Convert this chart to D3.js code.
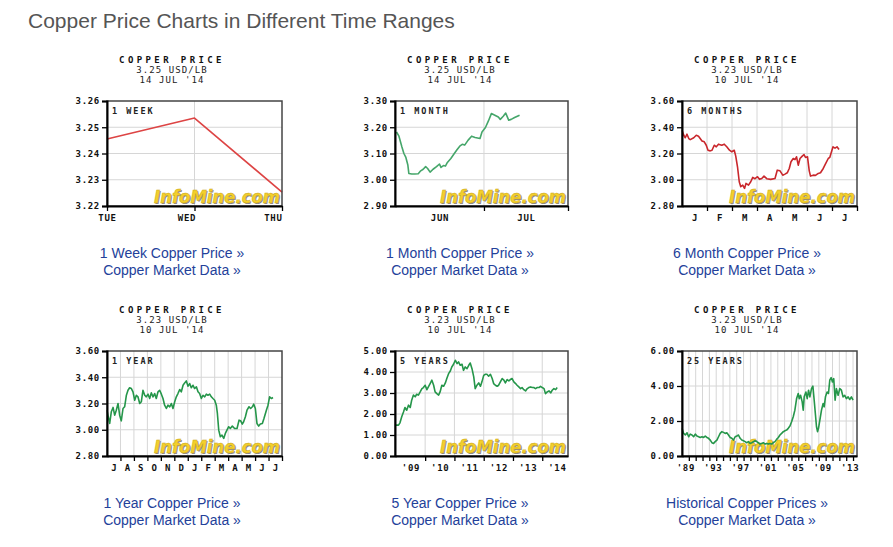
<!DOCTYPE html>
<html>
<head>
<meta charset="utf-8">
<script src="https://cdn.jsdelivr.net/npm/d3@7"></script>
<style>
    body { margin: 0; background: #fff; }
</style>
</head>
<body>
<div id="window"></div>
<script>
// ---- values ----
let week_days = ["TUE", "WED", "THU"];
let week_prices = [3.2455, 3.2535, 3.2253];

// [day (Jun 1 = 1), usd/lb]
let month_prices = [[13.3,3.182],[13.8,3.166],[14.4,3.125],[14.8,3.10],[15.2,3.085],[15.6,3.056],[15.8,3.024],[16.4,3.022],
    [17.0,3.022],[17.7,3.023],[18.2,3.034],[18.7,3.04],[19.2,3.05],[19.6,3.043],[20.1,3.029],[20.7,3.04],[21.4,3.05],
    [22.0,3.06],[22.3,3.047],[22.8,3.054],[23.2,3.052],[23.6,3.066],[24.3,3.081],[25.0,3.10],[25.5,3.113],[26.1,3.128],
    [26.6,3.135],[27.1,3.132],[27.8,3.151],[28.5,3.166],[29.2,3.161],[30.2,3.157],[30.6,3.182],[31.3,3.199],[31.9,3.224],
    [32.5,3.252],[33.2,3.246],[33.9,3.239],[34.3,3.23],[34.9,3.242],[35.4,3.254],[36.0,3.227],[36.5,3.23],[37.2,3.237],[38.2,3.246]];
let month_labels = ["JUN", "JUL"];

// [months since Jan 1 2014, usd/lb]
let six_month_prices = [[0.00,3.377],[0.07,3.339],[0.13,3.32],[0.20,3.347],[0.27,3.314],[0.33,3.306],[0.47,3.32],[0.57,3.339],
    [0.66,3.332],[0.80,3.296],[0.89,3.289],[0.97,3.263],[1.04,3.225],[1.13,3.22],[1.20,3.225],[1.29,3.263],[1.37,3.251],
    [1.46,3.271],[1.59,3.263],[1.69,3.271],[1.79,3.251],[1.90,3.225],[1.99,3.213],[2.09,3.225],[2.15,3.18],[2.22,3.099],
    [2.29,2.985],[2.35,2.947],[2.43,2.959],[2.50,2.934],[2.56,2.972],[2.66,2.959],[2.75,2.985],[2.83,3.018],[2.92,3.008],
    [3.02,3.023],[3.10,3.003],[3.19,3.01],[3.28,3.028],[3.39,3.008],[3.55,3.003],[3.72,3.01],[3.81,3.073],[3.92,3.068],
    [4.03,3.035],[4.12,3.043],[4.21,3.053],[4.29,3.086],[4.36,3.137],[4.45,3.162],[4.52,3.154],[4.58,3.175],[4.65,3.111],
    [4.72,3.162],[4.81,3.18],[4.88,3.192],[4.94,3.17],[5.02,3.175],[5.09,3.068],[5.14,3.028],[5.25,3.035],[5.34,3.033],
    [5.45,3.048],[5.54,3.053],[5.65,3.086],[5.75,3.124],[5.85,3.162],[5.91,3.17],[5.98,3.213],[6.04,3.251],[6.12,3.241],
    [6.20,3.251],[6.28,3.23]];
let six_month_labels = ["J", "F", "M", "A", "M", "J", "J"];

// [months since Jul 1 2013, usd/lb]
let year_prices = [[0.00,3.149],[0.07,3.111],[0.20,3.048],[0.32,3.137],[0.45,3.17],[0.57,3.111],[0.69,3.149],[0.82,3.2],
    [0.94,3.111],[1.06,3.068],[1.19,3.162],[1.31,3.175],[1.44,3.263],[1.56,3.301],[1.68,3.32],[1.81,3.314],[1.93,3.289],
    [2.06,3.225],[2.18,3.263],[2.30,3.251],[2.43,3.2],[2.55,3.213],[2.67,3.301],[2.80,3.263],[2.92,3.251],[3.05,3.271],
    [3.17,3.238],[3.29,3.281],[3.42,3.251],[3.54,3.276],[3.66,3.238],[3.79,3.289],[3.91,3.301],[4.04,3.271],[4.16,3.238],
    [4.28,3.187],[4.41,3.162],[4.53,3.187],[4.66,3.175],[4.78,3.2],[4.90,3.162],[5.03,3.213],[5.15,3.251],[5.27,3.276],
    [5.40,3.306],[5.52,3.289],[5.65,3.339],[5.77,3.357],[5.89,3.372],[6.02,3.332],[6.14,3.352],[6.26,3.32],[6.39,3.339],
    [6.51,3.314],[6.64,3.327],[6.76,3.289],[6.88,3.276],[7.01,3.238],[7.13,3.263],[7.26,3.251],[7.38,3.271],[7.50,3.263],
    [7.63,3.271],[7.75,3.251],[7.87,3.238],[8.00,3.225],[8.12,3.187],[8.20,3.124],[8.30,2.997],[8.42,2.947],[8.54,2.959],
    [8.67,2.934],[8.79,2.972],[8.91,2.997],[9.04,3.023],[9.16,3.01],[9.31,3.028],[9.48,3.01],[9.66,3.01],[9.81,3.073],
    [9.93,3.068],[10.05,3.043],[10.15,3.061],[10.28,3.099],[10.40,3.149],[10.55,3.175],[10.67,3.162],[10.80,3.175],
    [10.90,3.195],[11.02,3.162],[11.14,3.048],[11.27,3.028],[11.39,3.043],[11.54,3.048],[11.66,3.086],[11.84,3.149],
    [11.96,3.187],[12.08,3.251],[12.21,3.238],[12.33,3.246]];
let year_labels = ["J", "A", "S", "O", "N", "D", "J", "F", "M", "A", "M", "J", "J"];

// [decimal year, usd/lb]
let five_year_prices = [[2008.97,1.47],[2009.09,1.47],[2009.14,1.58],[2009.20,1.87],[2009.26,2.10],[2009.31,2.31],[2009.37,2.18],
    [2009.43,2.42],[2009.49,2.31],[2009.54,2.66],[2009.60,2.90],[2009.66,2.82],[2009.71,2.94],[2009.77,2.90],[2009.83,3.05],
    [2009.89,3.21],[2009.94,3.26],[2010.00,3.37],[2010.06,3.16],[2010.11,3.29],[2010.17,3.45],[2010.23,3.61],[2010.29,3.37],
    [2010.34,3.05],[2010.40,2.97],[2010.46,2.90],[2010.51,3.05],[2010.57,3.37],[2010.63,3.32],[2010.69,3.48],[2010.74,3.69],
    [2010.80,3.92],[2010.86,4.05],[2010.91,4.24],[2010.97,4.37],[2011.03,4.56],[2011.09,4.40],[2011.14,4.48],[2011.20,4.32],
    [2011.26,4.37],[2011.31,4.08],[2011.37,4.24],[2011.43,4.16],[2011.49,4.32],[2011.54,4.43],[2011.60,4.16],[2011.66,3.77],
    [2011.71,3.21],[2011.77,3.37],[2011.83,3.48],[2011.89,3.32],[2011.94,3.53],[2012.00,3.84],[2012.06,3.89],[2012.11,3.89],
    [2012.17,3.80],[2012.23,3.89],[2012.29,3.69],[2012.34,3.45],[2012.40,3.37],[2012.46,3.32],[2012.51,3.37],[2012.57,3.53],
    [2012.63,3.69],[2012.69,3.61],[2012.74,3.48],[2012.80,3.64],[2012.86,3.58],[2012.91,3.64],[2012.97,3.69],[2013.03,3.53],
    [2013.09,3.45],[2013.14,3.37],[2013.20,3.29],[2013.26,3.21],[2013.31,3.26],[2013.37,3.16],[2013.43,3.10],[2013.49,3.21],
    [2013.54,3.26],[2013.60,3.29],[2013.66,3.26],[2013.71,3.26],[2013.77,3.21],[2013.83,3.26],[2013.89,3.26],[2013.94,3.32],
    [2014.00,3.26],[2014.06,3.21],[2014.11,2.97],[2014.17,3.05],[2014.23,3.10],[2014.29,3.01],[2014.34,3.13],[2014.40,3.21],
    [2014.46,3.16],[2014.51,3.26]];
let five_year_labels = ["'09", "'10", "'11", "'12", "'13", "'14"];

let history_prices = [[1989.00,1.58],[1989.24,1.29],[1989.49,1.20],[1989.73,1.33],[1989.97,1.10],[1990.21,1.25],[1990.46,1.20],
    [1990.70,1.10],[1990.94,1.25],[1991.18,1.14],[1991.43,1.10],[1991.67,1.06],[1991.91,1.10],[1992.16,1.06],[1992.40,1.14],
    [1992.64,1.06],[1992.88,1.01],[1993.13,0.91],[1993.37,0.76],[1993.61,0.72],[1993.85,0.82],[1994.10,0.91],[1994.34,1.10],
    [1994.58,1.29],[1994.83,1.39],[1995.07,1.35],[1995.31,1.29],[1995.55,1.33],[1995.80,1.20],[1996.04,1.06],[1996.28,1.01],
    [1996.52,0.91],[1996.77,1.10],[1997.01,1.14],[1997.25,1.20],[1997.50,1.01],[1997.74,0.91],[1997.98,0.87],[1998.22,0.82],
    [1998.47,0.76],[1998.71,0.82],[1998.95,0.72],[1999.19,0.76],[1999.44,0.82],[1999.68,0.87],[1999.92,0.82],[2000.17,0.76],
    [2000.41,0.68],[2000.65,0.72],[2000.89,0.76],[2001.14,0.68],[2001.38,0.72],[2001.62,0.68],[2001.86,0.72],[2002.11,0.68],
    [2002.35,0.76],[2002.59,0.82],[2002.83,0.95],[2003.08,1.06],[2003.32,1.20],[2003.56,1.29],[2003.81,1.39],[2004.05,1.44],
    [2004.29,1.48],[2004.53,1.58],[2004.78,1.71],[2005.02,1.96],[2005.26,2.24],[2005.50,2.62],[2005.75,3.28],[2005.99,3.57],
    [2006.14,3.28],[2006.33,3.47],[2006.57,3.09],[2006.72,2.62],[2006.86,3.38],[2007.11,3.66],[2007.30,3.28],[2007.50,3.76],
    [2007.69,3.38],[2007.93,3.85],[2008.13,3.99],[2008.32,3.19],[2008.51,2.34],[2008.66,1.67],[2008.81,1.39],[2008.95,1.58],
    [2009.15,2.05],[2009.39,2.62],[2009.63,3.00],[2009.78,2.81],[2009.97,3.38],[2010.21,3.66],[2010.41,3.57],[2010.60,4.33],
    [2010.80,4.48],[2010.99,4.23],[2011.18,4.42],[2011.38,3.19],[2011.57,3.85],[2011.82,3.47],[2012.06,3.85],[2012.30,3.76],
    [2012.54,3.38],[2012.79,3.47],[2013.03,3.28],[2013.28,3.38],[2013.52,3.23],[2013.76,3.38],[2014.00,3.19]];
let history_labels = ["'89", "'93", "'97", "'01", "'05", "'09", "'13"];

let spot_prices = ["3.25", "3.25", "3.23", "3.23", "3.23", "3.23"];
let spot_dates = ["14 JUL '14", "14 JUL '14", "10 JUL '14", "10 JUL '14", "10 JUL '14", "10 JUL '14"];
let periods = ["1 WEEK", "1 MONTH", "6 MONTHS", "1 YEAR", "5 YEARS", "25 YEARS"];
let link_titles = ["1 Week Copper Price \u00bb", "1 Month Copper Price \u00bb", "6 Month Copper Price \u00bb",
    "1 Year Copper Price \u00bb", "5 Year Copper Price \u00bb", "Historical Copper Prices \u00bb"];

let mono = "'DejaVu Sans Mono', 'Liberation Mono', monospace";
let sans = "'Liberation Sans', Arial, sans-serif";

let svg = d3.select("#window")
    .append("svg")
    .attr("width", 893)
    .attr("height", 547)
    .style("display", "block");

svg.append("text")
    .attr("x", 28)
    .attr("y", 28)
    .attr("font-family", sans)
    .attr("font-size", 21)
    .attr("fill", "#555")
    .text("Copper Price Charts in Different Time Ranges");

let h = 105;
let fmt2 = d3.format(".2f");

function drawPanel(i, cfg) {
    let left = [107, 395, 682][i % 3];
    let top = [101, 351][Math.floor(i / 3)];
    let w = i % 3 == 1 ? 173 : 175;
    let g = svg.append("g").attr("transform", "translate(" + left + "," + top + ")");

    cfg.x.range([0, w]);
    let y = d3.scaleLinear().domain(cfg.yDomain).range([h, 0]);

    // header above the plot
    let cx = 65;
    g.append("text").attr("x", cx).attr("y", -38).attr("text-anchor", "middle")
        .attr("font-family", mono).attr("font-size", 9).attr("font-weight", "bold")
        .attr("letter-spacing", 3.4).attr("fill", "#111").text("COPPER PRICE");
    g.append("text").attr("x", cx).attr("y", -28).attr("text-anchor", "middle")
        .attr("font-family", mono).attr("font-size", 9).attr("letter-spacing", 1.1)
        .attr("fill", "#222").text(spot_prices[i] + " USD/LB");
    g.append("text").attr("x", cx).attr("y", -18).attr("text-anchor", "middle")
        .attr("font-family", mono).attr("font-size", 9).attr("letter-spacing", 1.1)
        .attr("fill", "#222").text(spot_dates[i]);

    // grid
    g.selectAll(".hgrid").data(cfg.yGrid).enter().append("line")
        .attr("x1", 0).attr("x2", w)
        .attr("y1", d => y(d)).attr("y2", d => y(d))
        .attr("stroke", "#d6d6d6").attr("stroke-width", 1);
    g.selectAll(".vgrid").data(cfg.xGrid).enter().append("line")
        .attr("x1", d => cfg.x(d)).attr("x2", d => cfg.x(d))
        .attr("y1", 0).attr("y2", h)
        .attr("stroke", "#d6d6d6").attr("stroke-width", 1);

    // watermark
    let wm = g.append("g").attr("transform", "translate(" + (w - 2) + "," + (h - 3) + ")");
    wm.append("text").attr("x", 1).attr("y", 1).attr("text-anchor", "end")
        .attr("font-family", "'DejaVu Sans', sans-serif").attr("font-size", 17)
        .attr("font-weight", "bold").attr("font-style", "italic")
        .attr("textLength", 126).attr("lengthAdjust", "spacingAndGlyphs")
        .attr("fill", "#8a8a8a").text("InfoMine.com");
    wm.append("text").attr("text-anchor", "end")
        .attr("font-family", "'DejaVu Sans', sans-serif").attr("font-size", 17)
        .attr("font-weight", "bold").attr("font-style", "italic")
        .attr("textLength", 126).attr("lengthAdjust", "spacingAndGlyphs")
        .attr("fill", "#f3cf2c").attr("stroke", "#c9a51c").attr("stroke-width", 0.4)
        .text("InfoMine.com");

    // label in the top-left corner
    g.append("text").attr("x", 5).attr("y", 13)
        .attr("font-family", mono).attr("font-size", 8.5).attr("font-weight", "bold")
        .attr("letter-spacing", 2).attr("fill", "#222").text(periods[i]);

    // price line
    let line = d3.line().x(d => cfg.x(d[0])).y(d => y(d[1]));
    g.append("path").datum(cfg.series)
        .attr("d", line)
        .attr("fill", "none")
        .attr("stroke", cfg.color)
        .attr("stroke-width", 1.6)
        .attr("stroke-linejoin", "round");

    // frame
    g.append("rect").attr("x", 0).attr("y", 0).attr("width", w).attr("height", h)
        .attr("fill", "none").attr("stroke", "#444").attr("stroke-width", 1.5);

    // y axis
    let ya = g.append("g").call(d3.axisLeft(y).tickValues(cfg.yTicks).tickFormat(fmt2)
        .tickSize(5).tickPadding(2));
    ya.select(".domain").attr("stroke", "#000").attr("stroke-width", 2);
    ya.selectAll("line").attr("stroke", "#000").attr("stroke-width", 1.3);
    ya.selectAll("text").attr("font-family", mono).attr("font-size", 9)
        .attr("font-weight", "bold").attr("letter-spacing", 0.7).attr("fill", "#111");

    // x axis tick marks
    let xa = g.append("g").attr("transform", "translate(0," + h + ")")
        .call(d3.axisBottom(cfg.x).tickValues(cfg.xTicks).tickFormat("").tickSize(5).tickSizeOuter(0));
    xa.select(".domain").attr("stroke", "#000").attr("stroke-width", 2);
    xa.selectAll("line").attr("stroke", "#000").attr("stroke-width", 1.3);

    // x axis labels
    let xl = g.append("g").attr("transform", "translate(0," + h + ")")
        .call(d3.axisBottom(cfg.x).tickValues(cfg.labelAt).tickFormat((d, k) => cfg.labels[k])
            .tickSize(0).tickPadding(9));
    xl.select(".domain").remove();
    xl.selectAll("text").attr("font-family", mono).attr("font-size", 9)
        .attr("font-weight", "bold").attr("letter-spacing", 0.7).attr("fill", "#111");
    if (cfg.labelFix) cfg.labelFix(xl);

    // links below
    g.append("text").attr("x", cx).attr("y", 157).attr("text-anchor", "middle")
        .attr("font-family", sans).attr("font-size", 14).attr("fill", "#23419a")
        .text(link_titles[i]);
    g.append("text").attr("x", cx).attr("y", 174).attr("text-anchor", "middle")
        .attr("font-family", sans).attr("font-size", 14).attr("fill", "#23419a")
        .text("Copper Market Data \u00bb");
}

let red = "#dd4444", dark_red = "#c9272c", green = "#45a66a", dark_green = "#25964a";

drawPanel(0, {
    x: d3.scalePoint().domain(week_days),
    yDomain: [3.22, 3.26], yTicks: [3.22, 3.23, 3.24, 3.25, 3.26], yGrid: [3.23, 3.24, 3.25],
    xGrid: ["WED"], xTicks: week_days, labelAt: week_days, labels: week_days,
    series: week_days.map((d, k) => [d, week_prices[k]]), color: red,
    labelFix: sel => {
        sel.selectAll("text").each(function (d, k) {
            if (k == 1) d3.select(this).attr("dx", -8);
            if (k == 2) d3.select(this).attr("text-anchor", "end");
        });
    }
});

drawPanel(1, {
    x: d3.scaleLinear().domain([13, 48]),
    yDomain: [2.9, 3.3], yTicks: [2.9, 3.0, 3.1, 3.2, 3.3], yGrid: [3.0, 3.1, 3.2],
    xGrid: [31], xTicks: [31, 48], labelAt: [22, 39.5], labels: month_labels,
    series: month_prices, color: green
});

drawPanel(2, {
    x: d3.scaleLinear().domain([0, 7]),
    yDomain: [2.8, 3.6], yTicks: [2.8, 3.0, 3.2, 3.4, 3.6], yGrid: [3.0, 3.2, 3.4],
    xGrid: d3.range(1, 7), xTicks: d3.range(1, 8), labelAt: d3.range(0.5, 7), labels: six_month_labels,
    series: six_month_prices, color: dark_red
});

drawPanel(3, {
    x: d3.scaleLinear().domain([0, 13]),
    yDomain: [2.8, 3.6], yTicks: [2.8, 3.0, 3.2, 3.4, 3.6], yGrid: [3.0, 3.2, 3.4],
    xGrid: d3.range(1, 13), xTicks: d3.range(1, 14), labelAt: d3.range(0.5, 13), labels: year_labels,
    series: year_prices, color: dark_green
});

drawPanel(4, {
    x: d3.scaleLinear().domain([2008.97, 2014.88]),
    yDomain: [0, 5], yTicks: [0, 1, 2, 3, 4, 5], yGrid: [1, 2, 3, 4],
    xGrid: d3.range(2010, 2015), xTicks: d3.range(2010, 2015), labelAt: d3.range(2009.5, 2015), labels: five_year_labels,
    series: five_year_prices, color: dark_green
});

drawPanel(5, {
    x: d3.scaleLinear().domain([1989, 2014.58]),
    yDomain: [0, 6], yTicks: [0, 2, 4, 6], yGrid: [2, 4],
    xGrid: d3.range(1990, 2015), xTicks: d3.range(1990, 2015), labelAt: d3.range(1989.5, 2014, 4), labels: history_labels,
    series: history_prices, color: dark_green
});
</script>
</body>
</html>
